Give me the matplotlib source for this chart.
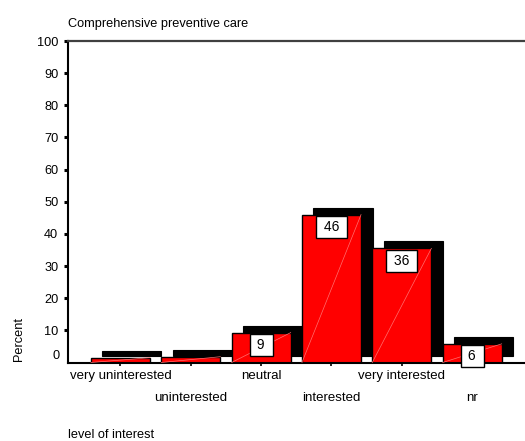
import matplotlib
matplotlib.use("Agg")
import matplotlib.pyplot as plt
from matplotlib.patches import Rectangle

plt.rcParams['font.family'] = ['Liberation Sans', 'DejaVu Sans']

categories = ["very uninterested", "uninterested", "neutral",
              "interested", "very interested", "nr"]
values = [1.5, 1.8, 9.3, 46.0, 35.5, 5.8]
bar_labels = ["", "", "9", "46", "36", "6"]
yticks = [10, 20, 30, 40, 50, 60, 70, 80, 90, 100]

title = "Comprehensive preventive care"
ylabel = "Percent"
xlabel = "level of interest"

fig = plt.figure(figsize=(5.25, 4.41), dpi=100)
ax = fig.add_axes([68/525, 1-362.5/441, 1-68/525, (362.5-41)/441])

width = 0.84
dx, dy = 0.163, 2.15
xs = list(range(len(categories)))

# depth (shadow) boxes
for x, v in zip(xs, values):
    ax.add_patch(Rectangle((x - width/2 + dx, dy), width, v, facecolor='black',
                           edgecolor='black', lw=0.8, zorder=1))
# front bars
ax.bar(xs, values, width=width, color='#ff0000', edgecolor='black',
       linewidth=1.0, zorder=2)
# faint diagonal artefacts
for x, v in zip(xs, values):
    ax.plot([x - width/2, x + width/2], [0, v], color='#ff7070', lw=0.5, zorder=3)

for x, v, lab in zip(xs, values, bar_labels):
    if lab:
        ax.annotate(f" {lab} ", xy=(x, v), xytext=(0, -3.8), textcoords='offset points',
                    ha='center', va='top', fontsize=10, zorder=5,
                    bbox=dict(boxstyle='square,pad=0.28', fc='white', ec='black', lw=1.0))

ax.set_xlim(-0.746, 5.751)
ax.set_ylim(0, 100)

ax.set_yticks(yticks)
ax.set_yticklabels([str(t) for t in yticks], fontsize=9.2)
ax.tick_params(axis='y', direction='out', length=3, width=2.2, pad=4, colors='black')
ax.annotate("0", xy=(0, 2.0), xycoords=('axes fraction', 'data'),
            xytext=(-6.3, 0), textcoords='offset points', ha='right', va='center',
            fontsize=9.2)

ax.set_xticks(xs)
ax.set_xticklabels([])
ax.tick_params(axis='x', direction='out', length=2, width=1.2)
for i, (x, c) in enumerate(zip(xs, categories)):
    off = -9.7 if i % 2 == 0 else -25.3
    ax.annotate(c, xy=(x, 0), xycoords=('data', 'axes fraction'),
                xytext=(0, off), textcoords='offset points',
                ha='center', va='center', fontsize=9.5)

ax.spines['right'].set_visible(False)
ax.spines['left'].set_linewidth(1.5)
ax.spines['bottom'].set_linewidth(1.5)
ax.spines['top'].set_linewidth(1.6)
ax.spines['top'].set_color('#404040')

fig.text(68/525, 1-23.5/441, title, ha='left', va='center', fontsize=9.2)
fig.text(19/525, 1-339/441, ylabel, rotation=90, ha='center', va='center', fontsize=9.2)
fig.text(68/525, 1-435/441, xlabel, ha='left', va='center', fontsize=9.2)

fig.savefig("out.png", dpi=100)
